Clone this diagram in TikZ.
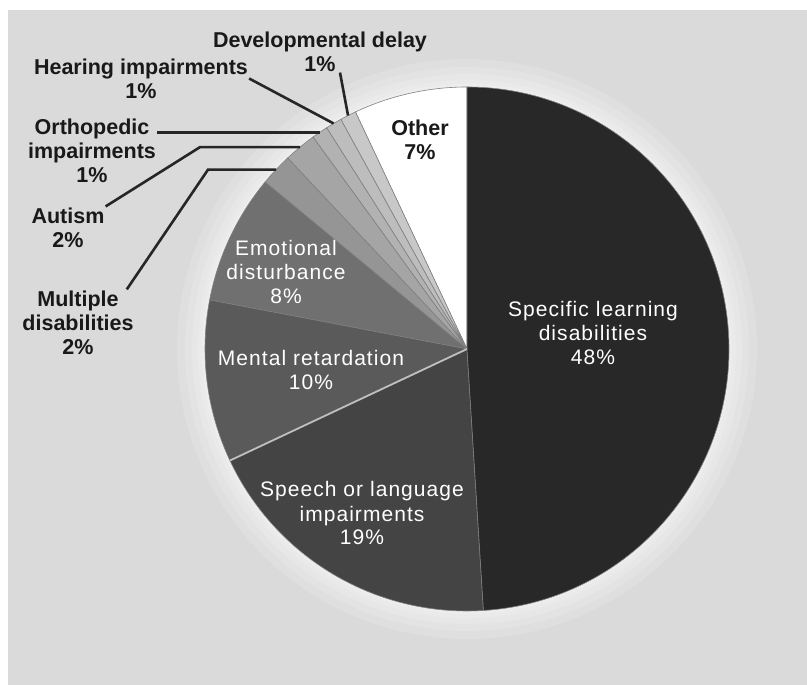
\documentclass[tikz,border=0pt]{standalone}
\usepackage{fontspec}
\setmainfont{Liberation Sans}
\newfontfamily\slicefont[LetterSpace=5]{Liberation Sans}
\usepackage{tikz}
\usetikzlibrary{calc}

\definecolor{bggray}{HTML}{DADADA}
\definecolor{spec}{HTML}{282828}
\definecolor{speech}{HTML}{444444}
\definecolor{ment}{HTML}{5A5A5A}
\definecolor{emo}{HTML}{707070}
\definecolor{mult}{HTML}{959595}
\definecolor{aut}{HTML}{A5A5A5}
\definecolor{orth}{HTML}{B2B2B2}
\definecolor{hear}{HTML}{BDBDBD}
\definecolor{dev}{HTML}{C8C8C8}

\begin{document}
\begin{tikzpicture}[x=1pt,y=1pt,
  outlabel/.style={font=\fontsize{21.5}{24}\selectfont\bfseries, align=center, inner sep=1pt, text=black!90},
  inlabel/.style={font={\slicefont\fontsize{21}{24}\selectfont}, align=center, inner sep=1pt, text=white},
  leader/.style={line width=2.6pt, black!85}]
\useasboundingbox (0,0) rectangle (807,685);
\fill [white] (0,0) rectangle (807,685);
\fill [bggray] (8,0) rectangle (807,675);

\coordinate (c) at (467,336);
\foreach \r in {290,282,275,269,265}
  \fill [white, opacity=0.15] (c) circle [radius=\r pt];

\foreach \a/\b/\col in {90/115.2/white, 115.2/118.8/dev, 118.8/122.4/hear,
    122.4/126/orth, 126/133.2/aut, 133.2/140.4/mult, 140.4/169.2/emo,
    169.2/205.2/ment, 205.2/273.6/speech, 273.6/450/spec}
  \filldraw [fill=\col, draw=black!50, line width=0.6pt] (c) -- ++(\a:262pt) arc [start angle=\a, end angle=\b, radius=262pt] -- cycle;
\draw [white!75!black, line width=1.8pt] (c) -- ++(205.2:262pt);

\coordinate (devedge) at ($(c)+(117:262pt)$);
\coordinate (hearedge) at ($(c)+(120.6:262pt)$);
\coordinate (orthedge) at ($(c)+(124.2:262pt)$);
\coordinate (autedge) at ($(c)+(129.6:262pt)$);
\coordinate (multedge) at ($(c)+(136.8:262pt)$);
\coordinate (autknee) at ($(autedge)+(-100,0)$);
\coordinate (multknee) at ($(multedge)+(-68,0)$);

\node [outlabel] (devlbl) at (320,633.5) {Developmental delay\\1\%};
\node [outlabel] (hearlbl) at (141,606.5) {Hearing impairments\\1\%};
\node [outlabel] (orthlbl) at (92,534) {Orthopedic\\impairments\\1\%};
\node [outlabel] (autlbl) at (68,457.5) {Autism\\2\%};
\node [outlabel] (multlbl) at (78,362.5) {Multiple\\disabilities\\2\%};
\node [outlabel] (otherlbl) at (420,545) {Other\\7\%};

\node [inlabel] (emolbl) at (286,413) {Emotional\\disturbance\\8\%};
\node [inlabel] (mentlbl) at (311,315) {Mental retardation\\10\%};
\node [inlabel] (speechlbl) at (362,171.5) {Speech or language\\impairments\\19\%};
\node [inlabel] (speclbl) at (593,351.5) {Specific learning\\disabilities\\48\%};

\draw [leader] ([xshift=20pt]devlbl.south) -- (devedge);
\draw [leader] (hearlbl.east) -- (hearedge);
\draw [leader] (orthlbl.east |- orthedge) -- (orthedge);
\draw [leader] (autlbl.north east) -- (autknee) -- (autedge);
\draw [leader] ([xshift=-8pt]multlbl.north east) -- (multknee) -- (multedge);
\end{tikzpicture}
\end{document}
